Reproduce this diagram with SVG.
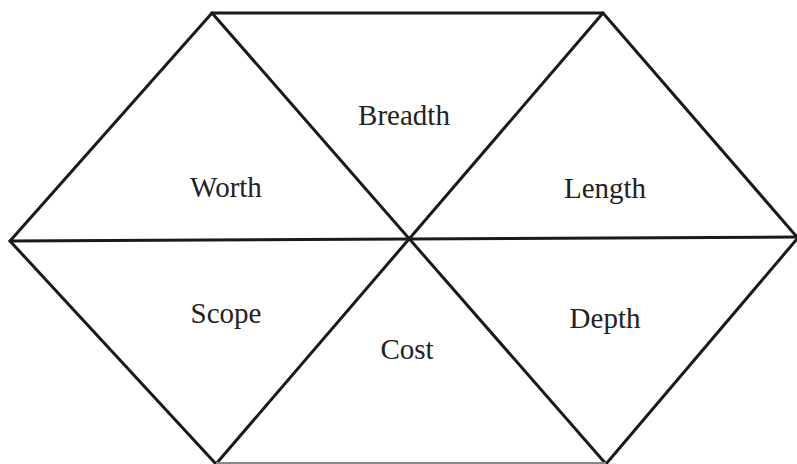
<svg xmlns="http://www.w3.org/2000/svg" width="797" height="464" viewBox="0 0 797 464">
<style>
.ln{stroke:#1a1a1a;stroke-width:3;fill:none;stroke-linecap:round;stroke-linejoin:miter}
text{font-family:"Liberation Serif",serif;font-size:29px;fill:#222;text-anchor:middle}
</style>
<rect width="797" height="464" fill="#fff"/>
<g id="connectors">
<polyline class="ln" points="212,13 603,13 797,237"/>
<line class="ln" x1="212" y1="13" x2="10" y2="241"/>
<line class="ln" x1="10" y1="241" x2="216" y2="464"/>
<line class="ln" x1="797" y1="239" x2="606" y2="464"/>
<line class="ln" x1="212" y1="13" x2="606" y2="464"/>
<line class="ln" x1="603" y1="13" x2="216" y2="464"/>
<line class="ln" x1="10" y1="241" x2="797" y2="237"/>
<line stroke="#888" stroke-width="2" x1="216" y1="463" x2="606" y2="463"/>
</g>
<g id="breadth"><text x="404" y="125" font-family="Liberation Serif, serif">Breadth</text></g>
<g id="worth"><text x="226" y="197" font-family="Liberation Serif, serif">Worth</text></g>
<g id="length"><text x="605" y="198" font-family="Liberation Serif, serif">Length</text></g>
<g id="scope"><text x="226" y="323" font-family="Liberation Serif, serif">Scope</text></g>
<g id="cost"><text x="407" y="359" font-family="Liberation Serif, serif">Cost</text></g>
<g id="depth"><text x="605" y="328" font-family="Liberation Serif, serif">Depth</text></g>
</svg>
